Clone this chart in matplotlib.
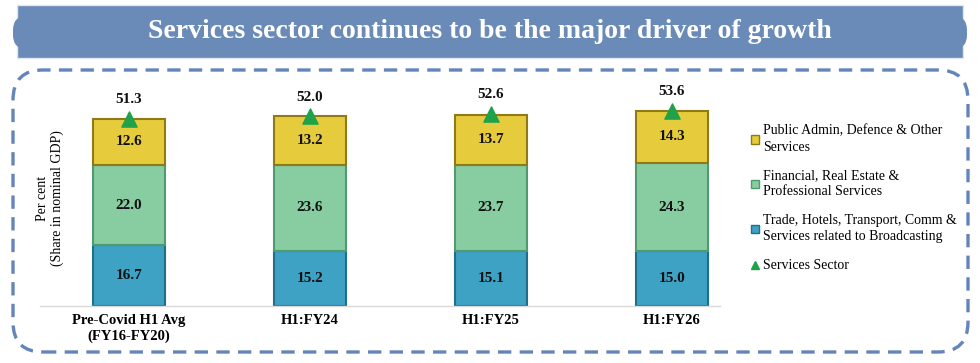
import matplotlib
matplotlib.use("Agg")
from matplotlib import pyplot as plt
from matplotlib.patches import FancyBboxPatch, Rectangle, Patch
from matplotlib.lines import Line2D
from matplotlib.transforms import IdentityTransform
import numpy as np

# Données (part dans le PIB nominal, en %)
categories = ["Pre-Covid H1 Avg\n(FY16-FY20)", "H1:FY24", "H1:FY25", "H1:FY26"]
trade = [16.7, 15.2, 15.1, 15.0]
financial = [22.0, 23.6, 23.7, 24.3]
public_admin = [12.6, 13.2, 13.7, 14.3]
services_total = [51.3, 52.0, 52.6, 53.6]

lbl_trade = "Trade, Hotels, Transport, Comm &\nServices related to Broadcasting"
lbl_fin = "Financial, Real Estate &\nProfessional Services"
lbl_pub = "Public Admin, Defence & Other\nServices"
lbl_tot = "Services Sector"

c_trade = "#3ea2c4"
c_fin = "#88cda2"
c_pub = "#e6cb3c"
c_tri = "#1fa24a"
c_banner = "#6a8ab8"
c_dash = "#6585ba"

SERIF = ["Liberation Serif", "DejaVu Serif"]
plt.rcParams["font.family"] = SERIF

W, H = 980, 363
fig = plt.figure(figsize=(W / 100, H / 100), dpi=100)


def px(x, y):
    # coordonnées image (origine en haut) -> pixels d'affichage
    return x, H - y


# Bandeau du titre
x0, y0 = px(17, 58)
fig.patches.append(Rectangle((x0, y0), 946, 53, transform=IdentityTransform(),
                             facecolor=c_banner, edgecolor="#dfe6f0", lw=1, zorder=0))
x0, y0 = px(5, 49)
fig.patches.append(FancyBboxPatch((x0 + 8, y0), 954, 33, boxstyle="round,pad=0,rounding_size=14",
                                  transform=IdentityTransform(), facecolor=c_banner,
                                  edgecolor="none", zorder=0))
fig.text(0.5, 1 - 31 / H, "Services sector continues to be the major driver of growth",
         ha="center", va="center", color="white", fontsize=20, fontweight="bold")

# Cadre en pointillés
x0, y0 = px(13, 352)
fig.patches.append(FancyBboxPatch((x0, y0), 955, 282, boxstyle="round,pad=0,rounding_size=30",
                                  transform=IdentityTransform(), facecolor="none",
                                  edgecolor=c_dash, lw=2.4, linestyle=(0, (4, 2.5)), zorder=0))

# Axes
ax = fig.add_axes([40 / W, (H - 306) / H, 680 / W, 218.7 / H])
x = np.arange(len(categories))
w = 0.40

b1 = ax.bar(x, trade, w, color=c_trade, edgecolor="#1f6f8a", lw=1.5, zorder=2)
b2 = ax.bar(x, financial, w, bottom=trade, color=c_fin, edgecolor="#4f9a6f", lw=1.5, zorder=2)
bot3 = np.array(trade) + np.array(financial)
b3 = ax.bar(x, public_admin, w, bottom=bot3, color=c_pub, edgecolor="#8f7a16", lw=1.5, zorder=2)

for bars, vals in [(b1, trade), (b2, financial), (b3, public_admin)]:
    for rect, v in zip(bars, vals):
        ax.text(rect.get_x() + rect.get_width() / 2, rect.get_y() + rect.get_height() / 2,
                f"{v:.1f}", ha="center", va="center", fontsize=11, fontweight="bold",
                color="#111111", zorder=4)

ax.scatter(x, services_total, marker="^", s=120, color=c_tri, zorder=5)
for xi, v in zip(x, services_total):
    ax.annotate(f"{v:.1f}", (xi, v), xytext=(0, 14), textcoords="offset points",
                ha="center", va="center", fontsize=11, fontweight="bold", color="#111111")

ax.set_xlim(-0.4917, 3.265)
ax.set_ylim(0, 60)
ax.set_xticks(x)
ax.set_xticklabels(categories, fontsize=10.5, fontweight="bold", linespacing=1.2)
ax.tick_params(axis="x", length=0, pad=6)
ax.set_yticks([])
for s in ["top", "right", "left"]:
    ax.spines[s].set_visible(False)
ax.spines["bottom"].set_color("#d9d9d9")
ax.spines["bottom"].set_linewidth(1)
ax.patch.set_alpha(0)

fig.text(50 / W, 1 - 198 / H, "Per cent\n(Share in nominal GDP)", rotation=90,
         ha="center", va="center", fontsize=10, linespacing=1.1)

# Légende
handles = [
    Patch(facecolor=c_pub, edgecolor="#8f7a16"),
    Patch(facecolor=c_fin, edgecolor="#4f9a6f"),
    Patch(facecolor=c_trade, edgecolor="#1f6f8a"),
    Line2D([], [], marker="^", color=c_tri, linestyle="none", markersize=6),
]
leg = fig.legend(handles, [lbl_pub, lbl_fin, lbl_trade, lbl_tot],
                 loc="upper left", bbox_to_anchor=(738 / W, 1 - 112 / H),
                 frameon=False, fontsize=10, handlelength=0.6, handleheight=0.6,
                 handletextpad=0.3, labelspacing=1.15)
for t in leg.get_texts():
    t.set_linespacing(1.3)

fig.savefig("out.png", dpi=100)
